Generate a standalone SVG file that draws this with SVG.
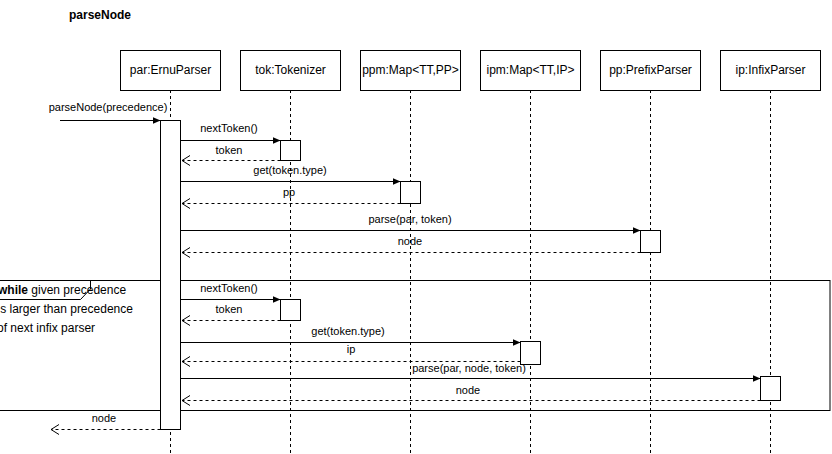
<svg xmlns="http://www.w3.org/2000/svg" width="832" height="454" viewBox="0 0 832 454">
  <style>
    text { font-family: "Liberation Sans", Arial, sans-serif; fill: #000; }
    .head { font-size: 12px; text-anchor: middle; }
    .msg { font-size: 11px; text-anchor: middle; }
    .title { font-size: 12px; font-weight: bold; }
    .frametext { font-size: 12px; }
    .box { fill: #fff; stroke: #000; stroke-width: 1; }
    .life { stroke: #000; stroke-width: 1; stroke-dasharray: 3 3; fill: none; }
    .call { stroke: #000; stroke-width: 1; fill: none; marker-end: url(#solid); }
    .ret { stroke: #000; stroke-width: 1; stroke-dasharray: 3 3; fill: none; marker-end: url(#open); }
  </style>
  <defs>
    <marker id="solid" markerUnits="userSpaceOnUse" markerWidth="10" markerHeight="10" refX="8" refY="4" orient="auto">
      <path d="M0,0.5 L8,4 L0,7.5 Z" fill="#000"/>
    </marker>
    <marker id="open" markerUnits="userSpaceOnUse" markerWidth="12" markerHeight="14" refX="9" refY="6" orient="auto">
      <path d="M1,1 L9,6 L1,11" fill="none" stroke="#000" stroke-width="1" stroke-dasharray="none"/>
    </marker>
  </defs>

  <rect width="832" height="454" fill="#fff"/>

  <text class="title" x="69" y="19">parseNode</text>

  <!-- lifelines -->
  <g id="lifelines">
    <path class="life" d="M170.5,90 V454"/>
    <path class="life" d="M290.5,90 V454"/>
    <path class="life" d="M410.5,90 V454"/>
    <path class="life" d="M530.5,90 V454"/>
    <path class="life" d="M650.5,90 V454"/>
    <path class="life" d="M770.5,90 V454"/>
  </g>

  <!-- participants -->
  <g id="par">
    <rect class="box" x="120.5" y="50.5" width="100" height="40"/>
    <text class="head" x="170.5" y="74">par:ErnuParser</text>
  </g>
  <g id="tok">
    <rect class="box" x="240.5" y="50.5" width="100" height="40"/>
    <text class="head" x="290.5" y="74">tok:Tokenizer</text>
  </g>
  <g id="ppm">
    <rect class="box" x="360.5" y="50.5" width="100" height="40"/>
    <text class="head" x="410.5" y="74">ppm:Map&lt;TT,PP&gt;</text>
  </g>
  <g id="ipm">
    <rect class="box" x="480.5" y="50.5" width="100" height="40"/>
    <text class="head" x="530.5" y="74">ipm:Map&lt;TT,IP&gt;</text>
  </g>
  <g id="pp">
    <rect class="box" x="600.5" y="50.5" width="100" height="40"/>
    <text class="head" x="650.5" y="74">pp:PrefixParser</text>
  </g>
  <g id="ip">
    <rect class="box" x="720.5" y="50.5" width="100" height="40"/>
    <text class="head" x="770.5" y="74">ip:InfixParser</text>
  </g>

  <!-- loop frame -->
  <g id="loop">
    <rect x="-5" y="280.5" width="835" height="130" fill="none" stroke="#000"/>
    <path d="M-5,299.5 H80.5 L90.5,289 V280.5" fill="none" stroke="#000"/>
    <text class="frametext" x="-2" y="294"><tspan font-weight="bold">while</tspan> given precedence</text>
    <text class="frametext" x="-2.5" y="313">is larger than precedence</text>
    <text class="frametext" x="-3" y="332">of next infix parser</text>
  </g>

  <!-- activations -->
  <g id="activations">
    <rect class="box" x="160.5" y="120.5" width="20" height="309"/>
    <rect class="box" x="280.5" y="140.5" width="20" height="20"/>
    <rect class="box" x="400.5" y="181.5" width="20" height="22"/>
    <rect class="box" x="640.5" y="230.5" width="20" height="22"/>
    <rect class="box" x="280.5" y="299.5" width="20" height="21"/>
    <rect class="box" x="520.5" y="341.5" width="20" height="23"/>
    <rect class="box" x="760.5" y="376.5" width="20" height="24"/>
  </g>

  <!-- messages -->
  <g id="connectors">
    <path class="call" d="M60,120.5 H160.5"/>
    <text class="msg" x="108" y="111">parseNode(precedence)</text>

    <path class="call" d="M180.5,140.5 H280.5"/>
    <text class="msg" x="229" y="132">nextToken()</text>
    <path class="ret" d="M280.5,160.5 H182"/>
    <text class="msg" x="229" y="154">token</text>

    <path class="call" d="M180.5,181.5 H400.5"/>
    <text class="msg" x="290" y="174">get(token.type)</text>
    <path class="ret" d="M400.5,203.5 H182"/>
    <text class="msg" x="289" y="196">pp</text>

    <path class="call" d="M180.5,230.5 H640.5"/>
    <text class="msg" x="410" y="223">parse(par, token)</text>
    <path class="ret" d="M640.5,252.5 H182"/>
    <text class="msg" x="410" y="245">node</text>

    <path class="call" d="M180.5,299.5 H280.5"/>
    <text class="msg" x="229" y="292">nextToken()</text>
    <path class="ret" d="M280.5,320.5 H182"/>
    <text class="msg" x="229" y="313">token</text>

    <path class="call" d="M180.5,342.5 H520.5"/>
    <text class="msg" x="348" y="335">get(token.type)</text>
    <path class="ret" d="M520.5,361.5 H182"/>
    <text class="msg" x="351" y="353">ip</text>

    <path class="call" d="M180.5,378.5 H760.5"/>
    <text class="msg" x="469" y="371.5">parse(par, node, token)</text>
    <path class="ret" d="M760.5,400.5 H182"/>
    <text class="msg" x="468" y="394">node</text>

    <path class="ret" d="M160.5,429.5 H51"/>
    <text class="msg" x="104" y="422">node</text>
  </g>
</svg>
